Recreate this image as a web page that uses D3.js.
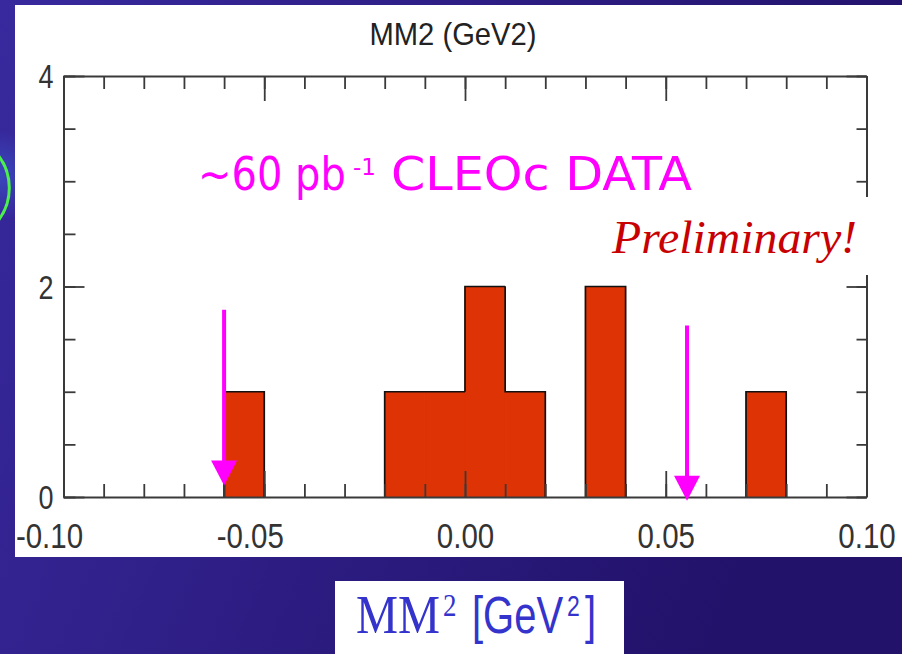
<!DOCTYPE html>
<html><head><meta charset="utf-8">
<script src="https://cdn.jsdelivr.net/npm/d3@7"></script>
<style>html,body{margin:0;padding:0;overflow:hidden;background:#2a1b80}</style>
</head><body><svg id="c" width="902" height="654"></svg>
<script>
// ---- data ----
const chartTitle = "MM2 (GeV2)";
const binLow = [-0.06, -0.02, -0.01, 0.00, 0.01, 0.03, 0.07];
const binWidth = 0.01;
const binCounts = [1, 1, 1, 2, 1, 2, 1];
const xDomain = [-0.10, 0.10];
const yDomain = [0, 4];
const xTickValues = [-0.10, -0.05, 0.00, 0.05, 0.10];
const xTickLabels = ["-0.10", "-0.05", "0.00", "0.05", "0.10"];
const yTickValues = [0, 2, 4];
const yTickLabels = ["0", "2", "4"];
const cutArrowX = [-0.0600, 0.0553];
const cutArrowTop = [1.78, 1.63];
const cutArrowTip = [0.11, -0.035];

// ---- layout ----
const svg = d3.select("#c");
const M = {left: 63.5, right: 866.5, top: 76, bottom: 497};
const x = d3.scaleLinear().domain(xDomain).range([M.left, M.right]);
const y = d3.scaleLinear().domain(yDomain).range([M.bottom, M.top]);

const defs = svg.append("defs");
const bg = defs.append("linearGradient").attr("id", "bg").attr("x1", 0).attr("y1", 0).attr("x2", 1).attr("y2", 0.3);
bg.append("stop").attr("offset", 0).attr("stop-color", "#38299e");
bg.append("stop").attr("offset", 1).attr("stop-color", "#22126a");
const glow = defs.append("radialGradient").attr("id", "glow").attr("cx", 0.5).attr("cy", 0.5).attr("r", 0.5);
glow.append("stop").attr("offset", 0).attr("stop-color", "#3a4cc0").attr("stop-opacity", 0.9);
glow.append("stop").attr("offset", 1).attr("stop-color", "#3a4cc0").attr("stop-opacity", 0);

svg.append("rect").attr("width", 902).attr("height", 654).attr("fill", "url(#bg)");
svg.append("ellipse").attr("cx", 0).attr("cy", 175).attr("rx", 40).attr("ry", 45).attr("fill", "url(#glow)");
// green arc from slide
svg.append("circle").attr("cx", -43.7).attr("cy", 188).attr("r", 53)
  .attr("fill", "none").attr("stroke", "#4cf04c").attr("stroke-width", 3);

// white panel
svg.append("rect").attr("x", 15).attr("y", 5).attr("width", 887).attr("height", 552).attr("fill", "#fff");

// title
svg.append("text").attr("x", 453).attr("y", 45).attr("text-anchor", "middle")
  .attr("font-family", "Liberation Sans, Arial, sans-serif").attr("font-size", 32)
  .attr("fill", "#222").attr("textLength", 167).attr("lengthAdjust", "spacingAndGlyphs")
  .text(chartTitle);

// bars: fill (stroked in fill colour to hide seams between adjacent bins)
const barColor = "#de3305";
svg.append("g").selectAll("rect").data(binLow).join("rect")
  .attr("x", d => x(d))
  .attr("y", (d, i) => y(binCounts[i]))
  .attr("width", d => x(d + binWidth) - x(d))
  .attr("height", (d, i) => y(0) - y(binCounts[i]))
  .attr("fill", barColor).attr("stroke", barColor).attr("stroke-width", 1);
// bars: histogram step outline
const outline = d3.path();
binLow.forEach((lo, i) => {
  const hi = lo + binWidth;
  const c = binCounts[i];
  const prevAdj = i > 0 && Math.abs(binLow[i - 1] + binWidth - lo) < 1e-9;
  const nextAdj = i < binLow.length - 1 && Math.abs(hi - binLow[i + 1]) < 1e-9;
  const prevC = prevAdj ? binCounts[i - 1] : 0;
  outline.moveTo(x(lo), y(prevC));
  outline.lineTo(x(lo), y(c));
  outline.lineTo(x(hi), y(c));
  if (!nextAdj) outline.lineTo(x(hi), y(0));
});
svg.append("path").attr("d", outline.toString()).attr("fill", "none")
  .attr("stroke", "#111").attr("stroke-width", 1.7);

// axes (ticks pointing inward)
const axisColor = "#3a3a3a";
function styleAxis(g, withDomain) {
  g.selectAll(".tick line").attr("stroke", axisColor).attr("stroke-width", 1.8);
  g.selectAll(".tick text").remove();
  if (withDomain) g.select(".domain").attr("stroke", axisColor).attr("stroke-width", 2);
  else g.select(".domain").remove();
}
const xMinor = x.ticks(20);
const yMinor = y.ticks(8);
svg.append("g").attr("transform", `translate(0,${M.top})`)
  .call(d3.axisTop(x).tickValues(xMinor).tickSize(-13).tickSizeOuter(0)).call(g => styleAxis(g, true));
svg.append("g").attr("transform", `translate(0,${M.top})`)
  .call(d3.axisTop(x).tickValues(xTickValues).tickSize(-25)).call(g => styleAxis(g, false));
svg.append("g").attr("transform", `translate(0,${M.bottom})`)
  .call(d3.axisBottom(x).tickValues(xMinor).tickSize(-13).tickSizeOuter(0)).call(g => styleAxis(g, true));
svg.append("g").attr("transform", `translate(0,${M.bottom})`)
  .call(d3.axisBottom(x).tickValues(xTickValues).tickSize(-26)).call(g => styleAxis(g, false));
svg.append("g").attr("transform", `translate(${M.left},0)`)
  .call(d3.axisLeft(y).tickValues(yMinor).tickSize(-12).tickSizeOuter(0)).call(g => styleAxis(g, true));
svg.append("g").attr("transform", `translate(${M.left},0)`)
  .call(d3.axisLeft(y).tickValues(yTickValues).tickSize(-21)).call(g => styleAxis(g, false));
svg.append("g").attr("transform", `translate(${M.right},0)`)
  .call(d3.axisRight(y).tickValues(yMinor).tickSize(-10).tickSizeOuter(0)).call(g => styleAxis(g, true));
svg.append("g").attr("transform", `translate(${M.right},0)`)
  .call(d3.axisRight(y).tickValues(yTickValues).tickSize(-20)).call(g => styleAxis(g, false));

// tick labels (narrow, tall digits)
const labFont = "Liberation Sans, Arial, sans-serif";
const xl = svg.append("g").attr("transform", `translate(0,${M.bottom})`)
  .call(d3.axisBottom(x).tickValues(xTickValues).tickSize(0).tickPadding(0)
    .tickFormat((d, i) => xTickLabels[i]));
xl.select(".domain").remove();
xl.selectAll(".tick text").attr("font-family", labFont).attr("font-size", 29.5).attr("fill", "#333")
  .attr("dy", null).attr("y", 42.5).attr("dx", d => d < 0 ? -14.5 : 0)
  .attr("transform", "scale(1,1.2)");
const yl = svg.append("g").attr("transform", `translate(${M.left},0)`)
  .call(d3.axisLeft(y).tickValues(yTickValues).tickSize(0).tickPadding(10)
    .tickFormat((d, i) => yTickLabels[i]));
yl.select(".domain").remove();
yl.selectAll(".tick text").attr("font-family", labFont).attr("font-size", 27).attr("fill", "#333")
  .attr("dy", null).attr("y", 9.6).attr("transform", "scale(1,1.2)");

// Preliminary box (covers part of right axis)
svg.append("rect").attr("x", 600).attr("y", 197).attr("width", 272).attr("height", 78).attr("fill", "#fff");
svg.append("text").attr("x", 612).attr("y", 253)
  .attr("font-family", "Liberation Serif, Times New Roman, serif").attr("font-style", "italic")
  .attr("font-size", 47).attr("fill", "#c80000")
  .attr("textLength", 245).attr("lengthAdjust", "spacingAndGlyphs").text("Preliminary!");

// magenta annotation
const mag = "#ff00ff";
const magFont = "DejaVu Sans, Verdana, sans-serif";
svg.append("g").attr("transform", "translate(198,190) scale(1,1.15)")
  .append("text").attr("x", 0).attr("y", 0).attr("font-family", magFont).attr("font-size", 40)
  .attr("fill", mag).text("~60 pb");
svg.append("text").attr("x", 353).attr("y", 175).attr("font-family", magFont).attr("font-size", 23)
  .attr("fill", mag).text("-1");
svg.append("text").attr("x", 391).attr("y", 190).attr("font-family", magFont).attr("font-size", 47)
  .attr("fill", mag).attr("textLength", 301).attr("lengthAdjust", "spacingAndGlyphs").text("CLEOc DATA");

// cut arrows
const arrows = svg.append("g").selectAll("g").data(cutArrowX).join("g");
arrows.append("line")
  .attr("x1", d => x(d)).attr("x2", d => x(d))
  .attr("y1", (d, i) => y(cutArrowTop[i])).attr("y2", (d, i) => y(cutArrowTip[i]) - 20)
  .attr("stroke", mag).attr("stroke-width", 4);
arrows.append("path")
  .attr("d", (d, i) => {
    const cx = x(d), ty = y(cutArrowTip[i]);
    return `M${cx - 13},${ty - 25}L${cx + 13},${ty - 25}L${cx},${ty}Z`;
  }).attr("fill", mag);

// bottom axis title box
svg.append("rect").attr("x", 335).attr("y", 581).attr("width", 289).attr("height", 80).attr("fill", "#fff");
const blue = "#3434cc";
const bl = svg.append("g").attr("transform", "translate(356,633) scale(1,1.15)");
bl.append("text").attr("x", 0).attr("y", 0).attr("font-family", "Liberation Serif, serif").attr("font-size", 47)
  .attr("fill", blue).attr("textLength", 84).attr("lengthAdjust", "spacingAndGlyphs").text("MM");
bl.append("text").attr("x", 87).attr("y", -15).attr("font-family", "Liberation Serif, serif").attr("font-size", 27)
  .attr("fill", blue).text("2");
const br = svg.append("g").attr("transform", "translate(356,633) scale(1,1.3)");
br.append("text").attr("x", 116).attr("y", 0).attr("font-family", "Liberation Sans, Arial, sans-serif").attr("font-size", 40)
  .attr("fill", blue).text("[GeV");
br.append("text").attr("x", 211).attr("y", -13).attr("font-family", "Liberation Sans, Arial, sans-serif").attr("font-size", 23)
  .attr("fill", blue).text("2");
br.append("text").attr("x", 229).attr("y", 0).attr("font-family", "Liberation Sans, Arial, sans-serif").attr("font-size", 40)
  .attr("fill", blue).text("]");
</script></body></html>
